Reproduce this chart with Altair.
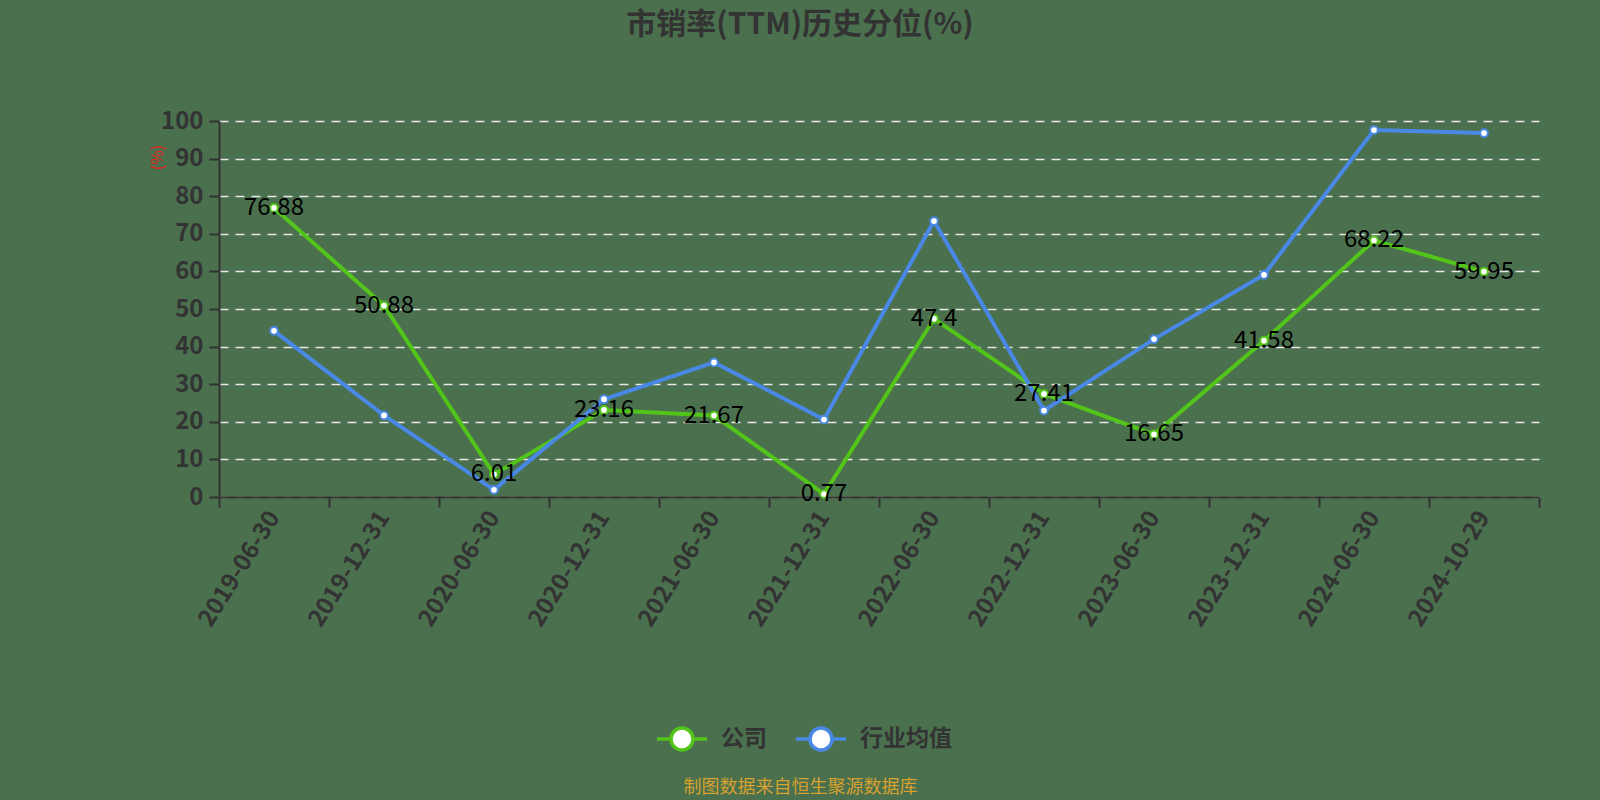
import altair as alt
import pandas as pd
import jinja2

dates = ["2019-06-30", "2019-12-31", "2020-06-30", "2020-12-31", "2021-06-30", "2021-12-31",
         "2022-06-30", "2022-12-31", "2023-06-30", "2023-12-31", "2024-06-30", "2024-10-29"]
company = [76.88, 50.88, 6.01, 23.16, 21.67, 0.77, 47.4, 27.41, 16.65, 41.58, 68.22, 59.95]
industry = [44.2, 21.7, 1.9, 26.0, 35.8, 20.6, 73.4, 23.0, 42.0, 59.1, 97.6, 96.8]
series_names = ["公司", "行业均值"]
series_colors = ["#52c41a", "#4a88e6"]
y_ticks = [0, 10, 20, 30, 40, 50, 60, 70, 80, 90, 100]

rows = []
for d, c, i in zip(dates, company, industry):
    rows.append({"date": d, "series": series_names[0], "value": c})
    rows.append({"date": d, "series": series_names[1], "value": i})
df = pd.DataFrame(rows)
df_company = df[df["series"] == series_names[0]]

FONT = "Noto Sans CJK SC"
BG = "#4a704e"

legend_path = ("M-1,0L-0.44,0M0.44,0L1,0M0.44,0"
               "A0.44,0.44,0,1,1,-0.44,0A0.44,0.44,0,1,1,0.44,0")

x_axis = alt.Axis(
    title="制图数据来自恒生聚源数据库",
    titleColor="#d6a12e", titleFont=FONT, titleFontSize=18, titleFontWeight="normal",
    titleX=581, titleY=290, titleAlign="center", titleBaseline="middle",
    labelAngle=-58, labelAlign="right", labelBaseline="middle",
    labelFont=FONT, labelFontSize=24, labelFontWeight="bold", labelColor="#333333",
    labelPadding=6, labelOverlap=False,
    tickBand="extent", ticks=True, tickSize=10, tickColor="#333333", tickWidth=2,
    domainColor="#333333", domainWidth=2, grid=False,
)
y_axis = alt.Axis(
    title="(%)", titleColor="#e0201a", titleFont=FONT, titleFontSize=16,
    titleFontWeight="normal", titleX=-62, titleY=36, titleAngle=270,
    titleAlign="center", titleBaseline="middle",
    values=y_ticks, labelOverlap=False,
    labelFont=FONT, labelFontSize=24, labelFontWeight="bold", labelColor="#333333",
    labelPadding=6,
    ticks=True, tickSize=10, tickColor="#333333", tickWidth=2,
    domainColor="#333333", domainWidth=2,
    grid=True, gridColor="#e6e6e6", gridDash=[9, 7], gridWidth=1.5,
)

x_scale = alt.Scale(type="band", paddingInner=0, paddingOuter=0)
y_scale = alt.Scale(domain=[0, 100], nice=False)


def X():
    return alt.X("date:N", sort=dates, scale=x_scale, axis=x_axis)


def Y():
    return alt.Y("value:Q", scale=y_scale, axis=y_axis)


color_scale = alt.Scale(domain=series_names, range=series_colors)

lines = alt.Chart(df).mark_line(strokeWidth=4).encode(
    x=X(), y=Y(),
    color=alt.Color(
        "series:N", scale=color_scale, sort=series_names,
        legend=alt.Legend(
            title=None, orient="none", direction="horizontal",
            legendX=436, legendY=591, padding=0,
            symbolType=legend_path, symbolSize=2500, symbolStrokeWidth=3.5,
            symbolFillColor="white",
            labelFont=FONT, labelFontSize=23, labelFontWeight="bold",
            labelColor="#333333", labelOffset=12, columnPadding=22,
        ),
    ),
)

points = alt.Chart(df).mark_point(filled=False, fill="white", fillOpacity=1, size=60,
                                   strokeWidth=2, opacity=1).encode(
    x=X(), y=Y(),
    stroke=alt.Stroke("series:N", scale=color_scale, legend=None),
)

labels = alt.Chart(df_company).mark_text(
    font=FONT, fontSize=24, color="#000000", align="center", baseline="middle",
).encode(
    x=X(), y=Y(),
    text=alt.Text("value:Q"),
)

chart = alt.layer(lines, points, labels).properties(
    width=1320, height=376,
    title=alt.TitleParams(
        "市销率(TTM)历史分位(%)", anchor="middle", font=FONT, fontSize=30,
        fontWeight="bold", color="#333333", offset=69, dx=-79,
    ),
    background=BG,
    padding={"left": 211, "top": 121, "right": 40, "bottom": 303},
    autosize=alt.AutoSizeParams(type="none"),
).configure_view(stroke=None)

PAGE = jinja2.Template("""<!DOCTYPE html>
<html>
<head>
<meta charset="utf-8">
<style>
  html, body { background: """ + BG + """; overflow: hidden; }
  body { margin: 0 8px 8px 8px; }
  #{{ output_div }}.vega-embed { width: 100%; display: flex; }
</style>
<script type="text/javascript" src="{{ base_url }}/vega@{{ vega_version }}"></script>
<script type="text/javascript" src="{{ base_url }}/vega-lite@{{ vegalite_version }}"></script>
<script type="text/javascript" src="{{ base_url }}/vega-embed@{{ vegaembed_version }}"></script>
</head>
<body>
<div id="{{ output_div }}"></div>
<script type="text/javascript">
  var spec = {{ spec }};
  var embedOpt = {{ embed_options }};
  vegaEmbed("#{{ output_div }}", spec, embedOpt).catch(console.error);
</script>
</body>
</html>
""")

try:
    chart.save("out.html", embed_options={"renderer": "svg", "actions": False}, template=PAGE)
except Exception:
    chart.save("out.html", embed_options={"renderer": "svg", "actions": False})
